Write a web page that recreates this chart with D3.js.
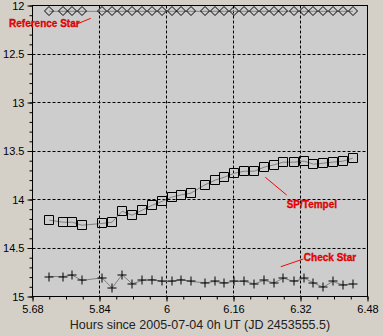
<!DOCTYPE html>
<html>
<head>
<meta charset="utf-8">
<script src="https://cdn.jsdelivr.net/npm/d3@7"></script>
<style>
    body { margin: 0; background: #d4d0c8; }
    svg { display: block; }
</style>
</head>
<body>
<div id="chart"></div>
<script>
// observation times, hours since 2005-07-04 0h UT
let times = [5.720, 5.753, 5.775, 5.798, 5.846, 5.870, 5.894, 5.918, 5.942, 5.966,
    5.990, 6.012, 6.035, 6.058, 6.092, 6.116, 6.138, 6.162, 6.186, 6.210,
    6.233, 6.257, 6.279, 6.305, 6.329, 6.351, 6.374, 6.397, 6.421, 6.445];
// magnitudes of the comet (squares)
let tempelMag = [14.213, 14.234, 14.234, 14.265, 14.247, 14.234, 14.121, 14.162, 14.110, 14.059,
    14.018, 13.976, 13.952, 13.935, 13.848, 13.801, 13.770, 13.729, 13.708, 13.708,
    13.667, 13.642, 13.615, 13.615, 13.605, 13.636, 13.626, 13.615, 13.605, 13.574];
// check star (plus signs)
let checkMag = [14.794, 14.794, 14.780, 14.835, 14.807, 14.912, 14.776, 14.869, 14.835, 14.825,
    14.845, 14.845, 14.825, 14.845, 14.859, 14.845, 14.859, 14.845, 14.845, 14.869,
    14.835, 14.859, 14.811, 14.845, 14.811, 14.859, 14.904, 14.845, 14.880, 14.869];
// reference star (diamonds)
let refMag = [12.06, 12.06, 12.06, 12.06, 12.06, 12.06, 12.06, 12.06, 12.06, 12.06,
    12.06, 12.06, 12.06, 12.06, 12.06, 12.06, 12.06, 12.06, 12.06, 12.06,
    12.06, 12.06, 12.06, 12.06, 12.06, 12.06, 12.06, 12.06, 12.06, 12.06];

let xTicks = [5.68, 5.84, 6, 6.16, 6.32, 6.48];
let yTicks = [12, 12.5, 13, 13.5, 14, 14.5, 15];
let xLabel = "Hours since 2005-07-04 0h UT (JD 2453555.5)";

// red annotations: text position and pointer line, in data units
let noteText = ["Reference Star", "SP/Tempel", "Check Star"];
let noteAt = [[5.624, 12.222], [6.287, 14.088], [6.328, 14.634]];
let notePtr = [[[5.786, 12.191], [5.819, 12.132]], [[6.236, 13.771], [6.287, 13.954]], [[6.273, 14.693], [6.327, 14.613]]];

let w = 383;
let h = 336;

let svg = d3.select("#chart")
    .append("svg")
    .attr("width", w)
    .attr("height", h);

let x = d3.scaleLinear().domain([5.68, 6.48]).range([32.5, 367.5]);
let y = d3.scaleLinear().domain([12, 15]).range([5.5, 296.5]);

// plot background
svg.append("rect")
    .attr("x", x(5.68))
    .attr("y", y(12))
    .attr("width", x(6.48) - x(5.68))
    .attr("height", y(15) - y(12))
    .attr("fill", "#cdcdcd");

// dashed grid
let snap = function (v) { return Math.round(v - 0.5) + 0.5; };
svg.append("g")
    .selectAll("line")
    .data(xTicks.slice(1, -1))
    .enter().append("line")
    .attr("x1", function (d) { return snap(x(d)); })
    .attr("x2", function (d) { return snap(x(d)); })
    .attr("y1", y(12))
    .attr("y2", y(15))
    .attr("stroke", "#000")
    .attr("stroke-dasharray", "3,2");
svg.append("g")
    .selectAll("line")
    .data(yTicks.slice(1, -1))
    .enter().append("line")
    .attr("y1", function (d) { return snap(y(d)); })
    .attr("y2", function (d) { return snap(y(d)); })
    .attr("x1", x(5.68))
    .attr("x2", x(6.48))
    .attr("stroke", "#000")
    .attr("stroke-dasharray", "3,2");

// axes, minor ticks first then major ticks with labels
let font = "'Liberation Sans Narrow', 'Arial Narrow', 'Liberation Sans', sans-serif";
let xMinor = d3.axisBottom(x).tickValues(d3.range(5.68, 6.481, 0.04)).tickSize(3).tickFormat("");
let xMajor = d3.axisBottom(x).tickValues(xTicks).tickSize(5).tickPadding(4).tickFormat(d3.format("~g"));
let yMinor = d3.axisLeft(y).tickValues(d3.range(12, 15.001, 0.1)).tickSize(3).tickFormat("");
let yMajor = d3.axisLeft(y).tickValues(yTicks).tickSize(5).tickPadding(3).tickFormat(d3.format("~g"));

[xMinor, xMajor].forEach(function (ax) {
    svg.append("g")
        .attr("transform", "translate(0," + y(15) + ")")
        .call(ax)
        .call(function (g) { g.select(".domain").remove(); });
});
[yMinor, yMajor].forEach(function (ax) {
    svg.append("g")
        .attr("transform", "translate(" + x(5.68) + ",0)")
        .call(ax)
        .call(function (g) { g.select(".domain").remove(); });
});
svg.selectAll(".tick text")
    .attr("font-family", font)
    .attr("font-size", 11)
    .attr("fill", "#000");
svg.selectAll(".tick line").attr("stroke", "#000");

// frame
svg.append("rect")
    .attr("x", x(5.68))
    .attr("y", y(12))
    .attr("width", x(6.48) - x(5.68))
    .attr("height", y(15) - y(12))
    .attr("fill", "none")
    .attr("stroke", "#000");

svg.append("text")
    .attr("x", 200)
    .attr("y", 329)
    .attr("text-anchor", "middle")
    .attr("font-family", "'Liberation Sans', Arial, sans-serif")
    .attr("font-size", 12.5)
    .attr("fill", "#222")
    .text(xLabel);

// series
let series = [
    { mag: refMag, shape: "M0,-4.5L4.5,0L0,4.5L-4.5,0Z" },
    { mag: tempelMag, shape: "M-4.5,-4.5H4.5V4.5H-4.5Z" },
    { mag: checkMag, shape: "M-4.5,0H4.5M0,-4.5V4.5" }
];
let line = d3.line()
    .x(function (d) { return x(d[0]); })
    .y(function (d) { return y(d[1]); });

series.forEach(function (s) {
    let pts = times.map(function (t, i) { return [t, s.mag[i]]; });
    svg.append("path")
        .datum(pts)
        .attr("d", line)
        .attr("fill", "none")
        .attr("stroke", "#808080");
    svg.append("g")
        .selectAll("path")
        .data(pts)
        .enter().append("path")
        .attr("transform", function (d) { return "translate(" + Math.round(x(d[0])) + "," + Math.round(y(d[1])) + ")"; })
        .attr("d", s.shape)
        .attr("fill", "none")
        .attr("stroke", "#000");
});

// annotations
svg.append("g")
    .selectAll("line")
    .data(notePtr)
    .enter().append("line")
    .attr("x1", function (d) { return x(d[0][0]); })
    .attr("y1", function (d) { return y(d[0][1]); })
    .attr("x2", function (d) { return x(d[1][0]); })
    .attr("y2", function (d) { return y(d[1][1]); })
    .attr("stroke", "#ff0000");
svg.append("g")
    .selectAll("text")
    .data(noteText)
    .enter().append("text")
    .attr("x", function (d, i) { return x(noteAt[i][0]); })
    .attr("y", function (d, i) { return y(noteAt[i][1]); })
    .attr("font-family", "'Liberation Sans', Arial, sans-serif")
    .attr("font-weight", "bold")
    .attr("font-size", 10)
    .attr("fill", "#ff0000")
    .attr("stroke", "#b00000")
    .attr("stroke-width", 0.3)
    .text(function (d) { return d; });
</script>
</body>
</html>
